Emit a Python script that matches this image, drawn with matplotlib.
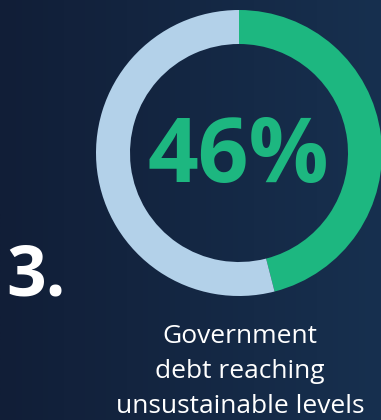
import numpy as np
import matplotlib.pyplot as plt
from matplotlib.colors import LinearSegmentedColormap

plt.rcParams['font.family'] = ['Open Sans', 'DejaVu Sans']

# share of respondents
labels = ['Unsustainable debt', 'Other']
shares = [46, 54]
colors = ['#1db780', '#b3d1e9']
big_number = '46%'
item_number = '3.'
caption_lines = ['Government', 'debt reaching', 'unsustainable levels']

W, H = 381, 420
fig = plt.figure(figsize=(W / 100, H / 100), dpi=100)

# dark navy background, slightly lighter towards the right
bg = fig.add_axes([0, 0, 1, 1])
bg.axis('off')
cmap = LinearSegmentedColormap.from_list('navy', ['#111e37', '#17304f'])
grad = np.linspace(0, 1, 256).reshape(1, -1)
bg.imshow(grad, cmap=cmap, aspect='auto', extent=[0, 1, 0, 1])
bg.set_xlim(0, 1)
bg.set_ylim(0, 1)

# main axes in pixel units
ax = fig.add_axes([0, 0, 1, 1])
ax.patch.set_alpha(0)
ax.pie(shares, colors=colors, startangle=90, counterclock=False,
       center=(239, H - 153), radius=143,
       wedgeprops=dict(width=34, linewidth=0))
ax.set_xlim(0, W)
ax.set_ylim(0, H)
ax.set_aspect('equal')
ax.axis('off')

ax.text(238, H - 182, big_number, color=colors[0], fontsize=64,
        fontweight='bold', ha='center', va='baseline')
ax.text(6, H - 295, item_number, color='white', fontsize=50,
        fontweight='bold', ha='left', va='baseline')
for i, line in enumerate(caption_lines):
    ax.text(240, H - 343 - 35 * i, line, color='white', fontsize=19,
            ha='center', va='baseline')

fig.savefig('out.png', dpi=100)
